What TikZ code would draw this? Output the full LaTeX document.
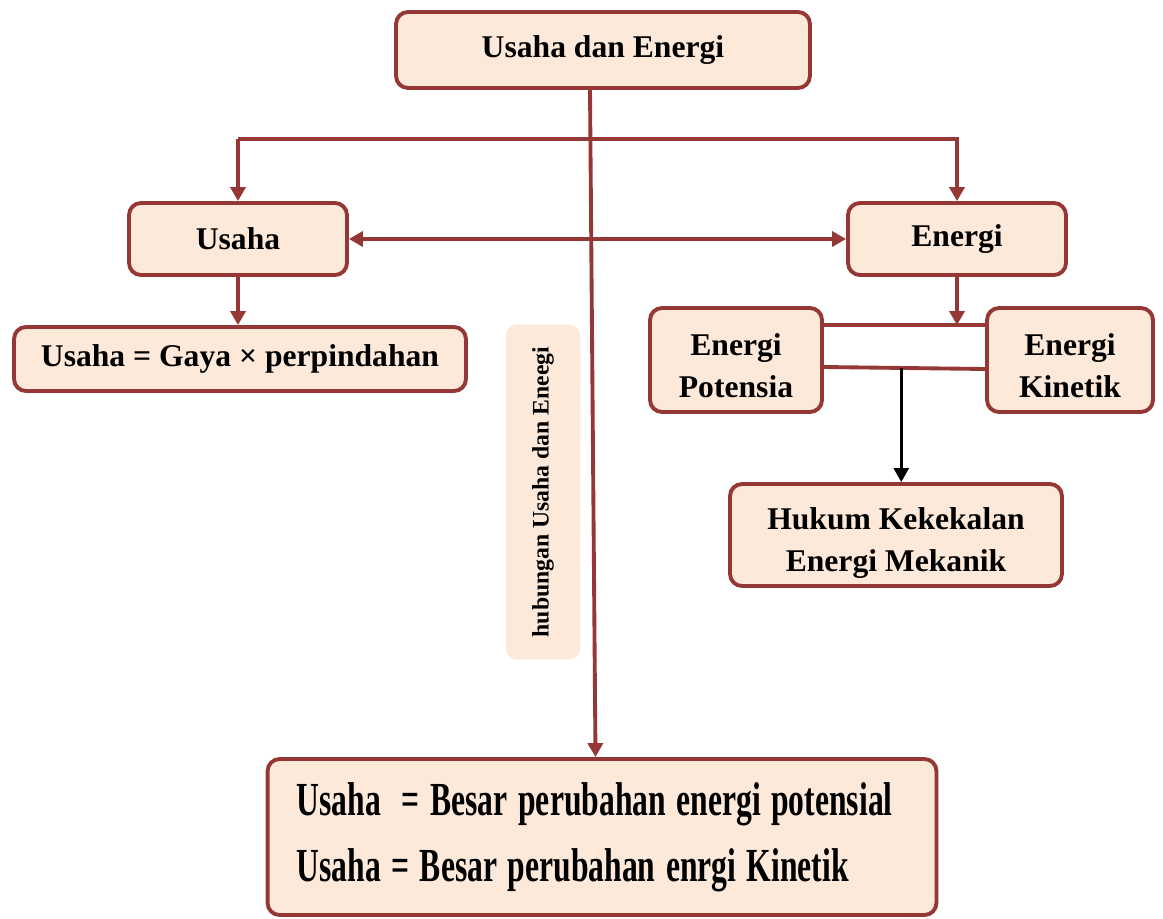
\documentclass[tikz,border=0pt]{standalone}
\usepackage{fontspec}
\setmainfont{Liberation Serif}
\usepackage{xcolor}
\usetikzlibrary{arrows.meta,positioning,calc}
\definecolor{kmline}{HTML}{953735}
\definecolor{kmfill}{HTML}{FDE9D9}

\begin{document}
\begin{tikzpicture}[
  x=0.02cm, y=0.02cm,
  font=\fontsize{18}{24}\selectfont\bfseries,
  box/.style={draw=kmline, fill=kmfill, line width=2.2pt, rounded corners=2.4mm,
              align=center, inner sep=2pt},
  low/.style={text height=#1},
  conn/.style={draw=kmline, line width=2.2pt},
  arr/.style={conn, -{Triangle[length=2.8mm,width=3mm]}},
  both/.style={conn, {Triangle[length=2.8mm,width=3mm]}-{Triangle[length=2.8mm,width=3mm]}},
  blk/.style={black, line width=1.4pt, -{Triangle[length=2.8mm,width=3mm]}},
]
\useasboundingbox (0,0) rectangle (1163,-919);

% boxes
\node[box, minimum width=8.28cm, minimum height=1.52cm] (judul) at (603,-50) {Usaha dan Energi};
\node[box, minimum width=4.36cm, minimum height=1.44cm] (usaha) at (238,-239) {Usaha};
\node[box, minimum width=4.36cm, minimum height=1.44cm] (energi) at (957,-239) {Energi};
\node[box, minimum width=9.04cm, minimum height=1.28cm] (rumus) at (240,-359) {Usaha = Gaya × perpindahan};
\node[box, low=15mm, minimum width=3.44cm, minimum height=2.08cm] (epot) at (736,-360) {Energi\\Potensia};
\node[box, low=15mm, minimum width=3.32cm, minimum height=2.08cm] (ekin) at (1070,-360) {Energi\\Kinetik};
\node[box, low=16mm, minimum width=6.64cm, minimum height=2.04cm] (hukum) at (896,-535) {Hukum Kekekalan\\Energi Mekanik};
\node[fill=kmfill, rounded corners=2.4mm, rotate=90, minimum width=6.7cm, minimum height=1.5cm,
      font=\fontsize{13.5}{16}\selectfont\bfseries] (hub) at (543,-492) {hubungan Usaha dan Eneegi};
\node[box, text width=12.22cm, align=left, inner xsep=0.58cm, minimum height=3.12cm,
      font=\fontsize{18}{37.4}\selectfont\bfseries] (hasil) at (602,-837)
  {\scalebox{1}[1.5]{Usaha\ \ = Besar perubahan energi potensial}\\
   \scalebox{1}[1.5]{Usaha = Besar perubahan enrgi Kinetik}};

% connectors
\coordinate (bar) at (600,-139);
\draw[arr] ([xshift=-2.6mm]judul.south) -- ([xshift=-1.3mm]hasil.north);
\draw[arr] (bar -| usaha) -- (usaha);
\draw[arr] (bar -| usaha) -- (bar -| energi) -- (energi);
\draw[both] (usaha) -- (energi);
\draw[arr] (usaha) -- (usaha |- rumus.north);

\coordinate (ptop) at ([yshift=-3.8mm]epot.north east);
\draw[conn] (ptop) -- (ptop -| ekin.west);
\draw[arr] (energi) -- (energi |- ptop);
\draw[conn] ([yshift=-1.4mm]epot.east) -- coordinate[pos=0.48] (tee) ([yshift=-1.8mm]ekin.west);
\draw[blk] (tee) -- (tee |- hukum.north);
\end{tikzpicture}
\end{document}
